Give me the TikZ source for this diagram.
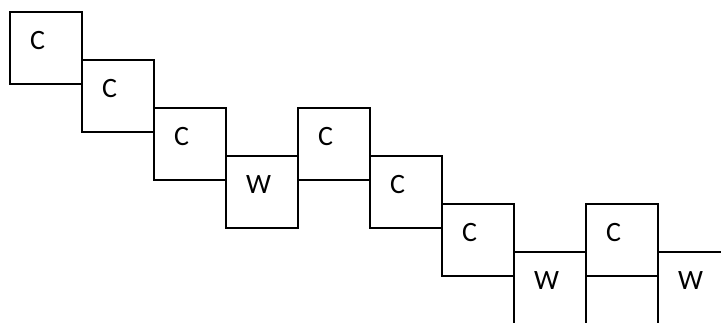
\documentclass[tikz,border=0pt]{standalone}
\usepackage{fontspec}
\setmainfont{Carlito}
\begin{document}
\begin{tikzpicture}[x=1pt,y=-1pt,
  cell/.style={draw=black,line width=1.8pt,rectangle,minimum width=72pt,minimum height=72pt,inner sep=0pt,anchor=north west},
  lbl/.style={anchor=base west,inner sep=0pt,font=\fontsize{28}{32}\selectfont}]
\useasboundingbox (0,0) rectangle (721,322);
\clip (0,0) rectangle (721,322);
\foreach \n/\x/\y/\t in {b1/9/11/C,b2/81/59/C,b3/153/107/C,b4/225/155/W,b5/297/107/C,b6/369/155/C,b7/441/203/C,b8/513/251/W,b9/585/203/C,b10/657/251/W}{
  \node[cell] (\n) at (\x,\y) {};
  \node[lbl] (\n t) at ([shift={(21pt,-38pt)}]\n.north west) {\t};
}
\end{tikzpicture}
\end{document}
